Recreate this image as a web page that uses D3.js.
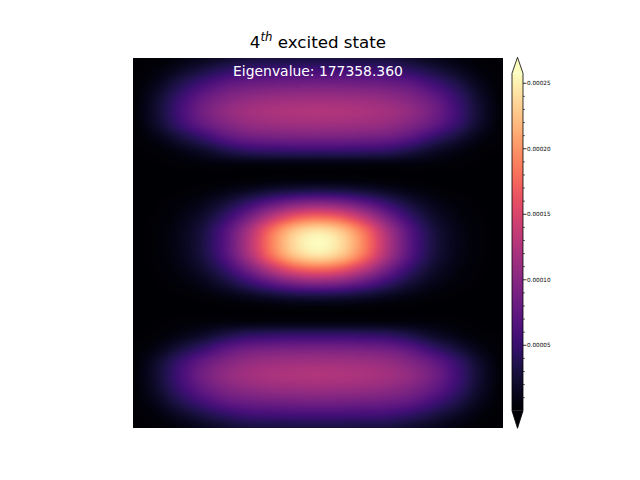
<!DOCTYPE html>
<html><head><meta charset="utf-8">
<script src="https://cdn.jsdelivr.net/npm/d3@7"></script>
<style>body{margin:0;background:#fff}svg{display:block}</style>
</head><body>
<svg id="chart" width="640" height="480"></svg>
<script>
// ---- data (probability density, units of 1e-6), rows top -> bottom, 29 x 17 grid ----
const densityRows = [
  [1,2,7,14,22,28,29,30,30,30,29,28,22,14,7,2,1],
  [1,6,18,32,45,54,56,57,58,57,56,54,45,32,18,6,1],
  [2,13,35,56,74,82,85,87,88,87,85,82,74,56,35,13,2],
  [2,20,49,76,94,104,109,111,112,111,109,104,94,76,49,20,2],
  [3,23,55,85,105,116,121,124,125,124,121,116,105,85,55,23,3],
  [2,20,49,76,95,107,112,114,115,114,112,107,95,76,49,20,2],
  [2,10,28,48,70,83,87,89,90,89,87,83,70,48,28,10,2],
  [1,3,10,20,34,45,48,50,50,50,48,45,34,20,10,3,1],
  [0,1,3,5,7,7,8,8,8,8,8,7,7,5,3,1,0],
  [0,0,0,0,1,1,2,3,3,3,2,1,1,0,0,0,0],
  [0,0,1,4,9,16,24,30,32,30,24,16,9,4,1,0,0],
  [0,1,5,12,27,49,74,93,100,93,74,49,27,12,5,1,0],
  [0,2,8,21,47,86,130,163,175,163,130,86,47,21,8,2,0],
  [0,3,11,29,65,118,178,223,240,223,178,118,65,29,11,3,0],
  [0,3,12,31,69,126,190,239,257,239,190,126,69,31,12,3,0],
  [0,3,11,29,65,118,178,223,240,223,178,118,65,29,11,3,0],
  [0,2,8,21,47,86,130,163,175,163,130,86,47,21,8,2,0],
  [0,1,5,12,27,49,74,93,100,93,74,49,27,12,5,1,0],
  [0,0,1,4,9,16,24,30,32,30,24,16,9,4,1,0,0],
  [0,0,0,0,1,1,2,3,3,3,2,1,1,0,0,0,0],
  [0,1,3,5,7,7,8,8,8,8,8,7,7,5,3,1,0],
  [1,3,10,20,34,45,48,50,50,50,48,45,34,20,10,3,1],
  [2,10,28,48,70,83,87,89,90,89,87,83,70,48,28,10,2],
  [2,20,49,76,95,107,112,114,115,114,112,107,95,76,49,20,2],
  [3,23,55,85,105,116,121,124,125,124,121,116,105,85,55,23,3],
  [2,20,49,76,94,104,109,111,112,111,109,104,94,76,49,20,2],
  [2,13,35,56,74,82,85,87,88,87,85,82,74,56,35,13,2],
  [1,6,18,32,45,54,56,57,58,57,56,54,45,32,18,6,1],
  [1,2,7,14,22,28,29,30,30,30,29,28,22,14,7,2,1]
];
const densityUnit = 1e-6;
const colorMin = 0;
const colorMax = 0.0002576;
const cbMajorTicks = [0.00005, 0.00010, 0.00015, 0.00020, 0.00025];
const cbMajorLabels = ["0.00005", "0.00010", "0.00015", "0.00020", "0.00025"];
const cbMinorTicks = [0.00001,0.00002,0.00003,0.00004,0.00006,0.00007,0.00008,0.00009,
  0.00011,0.00012,0.00013,0.00014,0.00016,0.00017,0.00018,0.00019,0.00021,0.00022,0.00023,0.00024];
const titleMain = "4";
const titleSup = "th";
const titleRest = " excited state";
const eigenLabel = "Eigenvalue: 177358.360";

// ---- layout ----
const plot = {x0: 133, y0: 58, x1: 503, y1: 428};
const cb = {x0: 512, x1: 523, top: 73.3, bottom: 410.8, tipTop: 57.3, tipBottom: 428.3};

const svg = d3.select("#chart");
const nRows = densityRows.length, nCols = densityRows[0].length;
const xScale = d3.scaleLinear().domain([0, nCols - 1]).range([plot.x0, plot.x1]);
const yScale = d3.scaleLinear().domain([0, nRows - 1]).range([plot.y0, plot.y1]);
const color = d3.scaleSequential(d3.interpolateMagma).domain([colorMin, colorMax]).clamp(true);

// ---- heatmap rendered with bicubic (Catmull-Rom) display interpolation ----
const W = plot.x1 - plot.x0, H = plot.y1 - plot.y0;
const canvas = document.createElement("canvas");
canvas.width = W; canvas.height = H;
const ctx = canvas.getContext("2d");
const img = ctx.createImageData(W, H);
const lut = d3.range(1024).map(i => d3.rgb(color(colorMin + (colorMax - colorMin) * i / 1023)));
function g(r, c) {
  r = Math.max(0, Math.min(nRows - 1, r));
  c = Math.max(0, Math.min(nCols - 1, c));
  return densityRows[r][c];
}
function cr(p0, p1, p2, p3, t) {
  return 0.5 * (2 * p1 + (-p0 + p2) * t + (2 * p0 - 5 * p1 + 4 * p2 - p3) * t * t + (-p0 + 3 * p1 - 3 * p2 + p3) * t * t * t);
}
for (let py = 0; py < H; py++) {
  const gy = yScale.invert(plot.y0 + py + 0.5);
  const r = Math.floor(gy), ty = gy - r;
  for (let px = 0; px < W; px++) {
    const gx = xScale.invert(plot.x0 + px + 0.5);
    const c = Math.floor(gx), tx = gx - c;
    const rowsI = [];
    for (let k = -1; k <= 2; k++) {
      rowsI.push(cr(g(r + k, c - 1), g(r + k, c), g(r + k, c + 1), g(r + k, c + 2), tx));
    }
    let v = cr(rowsI[0], rowsI[1], rowsI[2], rowsI[3], ty) * densityUnit;
    let idx = Math.round((v - colorMin) / (colorMax - colorMin) * 1023);
    idx = Math.max(0, Math.min(1023, idx));
    const col = lut[idx];
    const o = (py * W + px) * 4;
    img.data[o] = col.r; img.data[o + 1] = col.g; img.data[o + 2] = col.b; img.data[o + 3] = 255;
  }
}
ctx.putImageData(img, 0, 0);
svg.append("image")
  .attr("x", plot.x0).attr("y", plot.y0)
  .attr("width", W).attr("height", H)
  .attr("preserveAspectRatio", "none")
  .attr("href", canvas.toDataURL());

// ---- title ----
const title = svg.append("text")
  .attr("x", 318).attr("y", 48.3)
  .attr("text-anchor", "middle")
  .attr("font-family", "DejaVu Sans")
  .attr("font-size", 16.7)
  .attr("fill", "#000");
title.append("tspan").text(titleMain);
title.append("tspan").attr("dy", -7).attr("font-size", 11.7).attr("font-style", "italic").text(titleSup);
title.append("tspan").attr("dy", 7).text(titleRest);

svg.append("text")
  .attr("x", 318).attr("y", 76)
  .attr("text-anchor", "middle")
  .attr("font-family", "DejaVu Sans")
  .attr("font-size", 13.9)
  .attr("fill", "#fff")
  .text(eigenLabel);

// ---- colorbar ----
const cbScale = d3.scaleLinear().domain([colorMin, colorMax]).range([cb.bottom, cb.top]);
const defs = svg.append("defs");
const grad = defs.append("linearGradient").attr("id", "cbgrad")
  .attr("x1", 0).attr("y1", 1).attr("x2", 0).attr("y2", 0);
d3.range(0, 1.0001, 0.02).forEach(t => {
  grad.append("stop").attr("offset", t).attr("stop-color", color(colorMin + t * (colorMax - colorMin)));
});
svg.append("rect")
  .attr("x", cb.x0).attr("y", cb.top)
  .attr("width", cb.x1 - cb.x0).attr("height", cb.bottom - cb.top)
  .attr("fill", "url(#cbgrad)");
const xm = (cb.x0 + cb.x1) / 2;
svg.append("path")
  .attr("d", `M${cb.x0},${cb.top}L${xm},${cb.tipTop}L${cb.x1},${cb.top}Z`)
  .attr("fill", color(colorMax));
svg.append("path")
  .attr("d", `M${cb.x0},${cb.bottom}L${xm},${cb.tipBottom}L${cb.x1},${cb.bottom}Z`)
  .attr("fill", color(colorMin));
svg.append("path")
  .attr("d", `M${cb.x0},${cb.top}L${xm},${cb.tipTop}L${cb.x1},${cb.top}L${cb.x1},${cb.bottom}L${xm},${cb.tipBottom}L${cb.x0},${cb.bottom}Z`)
  .attr("fill", "none").attr("stroke", "#000").attr("stroke-width", 0.8);

const tickG = svg.append("g");
tickG.selectAll("line.minor").data(cbMinorTicks).join("line")
  .attr("class", "minor")
  .attr("x1", cb.x1).attr("x2", cb.x1 + 2)
  .attr("y1", d => cbScale(d)).attr("y2", d => cbScale(d))
  .attr("stroke", "#000").attr("stroke-width", 0.6);
tickG.selectAll("line.major").data(cbMajorTicks).join("line")
  .attr("class", "major")
  .attr("x1", cb.x1).attr("x2", cb.x1 + 3.5)
  .attr("y1", d => cbScale(d)).attr("y2", d => cbScale(d))
  .attr("stroke", "#000").attr("stroke-width", 0.8);
tickG.selectAll("text").data(cbMajorTicks).join("text")
  .attr("x", cb.x1 + 4)
  .attr("y", d => cbScale(d))
  .attr("dy", "0.35em")
  .attr("font-family", "DejaVu Sans")
  .attr("font-size", 5.7)
  .attr("fill", "#000")
  .text((d, i) => cbMajorLabels[i]);
</script>
</body></html>
